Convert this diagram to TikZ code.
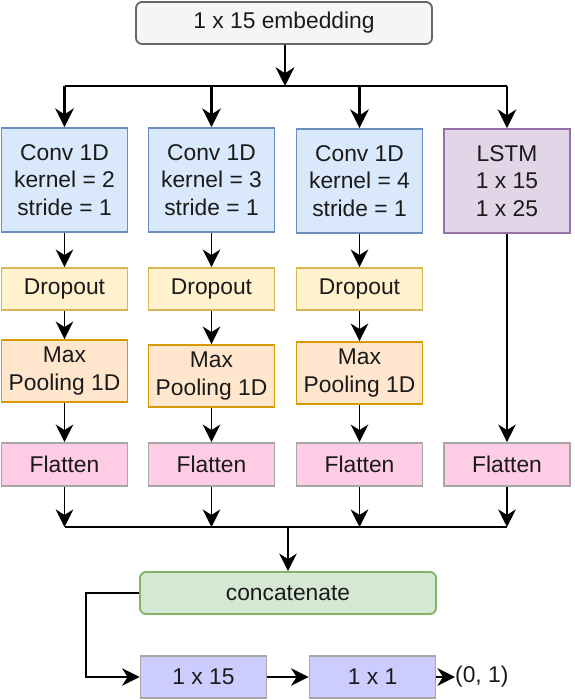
\documentclass[tikz,border=0pt]{standalone}
\usepackage{fontspec}
\setmainfont{Liberation Sans}
\usetikzlibrary{arrows.meta,calc}
\definecolor{convf}{HTML}{DAE8FC}\definecolor{convd}{HTML}{6C8EBF}
\definecolor{lstmf}{HTML}{E1D5E7}\definecolor{lstmd}{HTML}{9673A6}
\definecolor{dropf}{HTML}{FFF2CC}\definecolor{dropd}{HTML}{D6B656}
\definecolor{maxf}{HTML}{FFE6CC}\definecolor{maxd}{HTML}{D79B00}
\definecolor{flatf}{HTML}{FFCCE6}\definecolor{grayd}{HTML}{A6A6A6}
\definecolor{catf}{HTML}{D5E8D4}\definecolor{catd}{HTML}{82B366}
\definecolor{embf}{HTML}{F5F5F5}\definecolor{embd}{HTML}{666666}
\definecolor{densef}{HTML}{CCCCFF}
\definecolor{txt}{HTML}{1A1A1A}
\begin{document}
\begin{tikzpicture}[x=1pt,y=-1pt,
  every node/.style={font=\fontsize{22.8}{27.3}\selectfont, text=txt, inner sep=0pt, align=center},
  blk/.style={draw, line width=1.8pt, minimum width=126pt},
  conv/.style={blk, fill=convf, draw=convd, minimum height=104pt},
  lstm/.style={blk, fill=lstmf, draw=lstmd, minimum height=104pt},
  drop/.style={blk, fill=dropf, draw=dropd, minimum height=42pt},
  maxp/.style={blk, fill=maxf, draw=maxd, minimum height=62pt},
  flat/.style={blk, fill=flatf, draw=grayd, minimum height=43pt},
  dense/.style={blk, fill=densef, draw=grayd, minimum height=42pt},
  wide/.style={draw, line width=1.8pt, minimum width=296pt, minimum height=42pt, rounded corners=6pt},
  thick arr/.style={line width=2.5pt, -{Stealth[length=11pt,width=11pt,inset=3.5pt,scale=1.7]}},
  thin arr/.style={line width=1.8pt, -{Stealth[length=11pt,width=11pt,inset=3.5pt,scale=1.6]}},
]
\useasboundingbox (0,0) rectangle (574,700);

\node[wide, fill=embf, draw=embd] (emb) at (284,23) {1 x 15 embedding};

\node[conv] (c1) at (64.5,180) {Conv 1D\\kernel = 2\\stride = 1};
\node[conv] (c2) at (211.5,180) {Conv 1D\\kernel = 3\\stride = 1};
\node[conv] (c3) at (359.5,181) {Conv 1D\\kernel = 4\\stride = 1};
\node[lstm] (l4) at (507,181) {LSTM\\1 x 15\\1 x 25};

\node[drop] (d1) at (64.5,289) {Dropout};
\node[drop] (d2) at (211.5,289) {Dropout};
\node[drop] (d3) at (359.5,289) {Dropout};

\node[maxp] (m1) at (64.5,371) {Max\\Pooling 1D};
\node[maxp] (m2) at (211.5,376) {Max\\Pooling 1D};
\node[maxp] (m3) at (359.5,373) {Max\\Pooling 1D};

\node[flat] (f1) at (64.5,464.5) {Flatten};
\node[flat] (f2) at (211.5,464.5) {Flatten};
\node[flat] (f3) at (359.5,464.5) {Flatten};
\node[flat] (f4) at (507,464.5) {Flatten};

\node[wide, fill=catf, draw=catd] (cat) at (288,593) {concatenate};
\node[dense] (b1) at (203.5,677) {1 x 15};
\node[dense] (b2) at (372.5,677) {1 x 1};
\node[anchor=west] (out) at (455,677) {(0, 1)};

% top distribution
\coordinate (tj) at (285,86);
\coordinate (tl) at (64.5,86);
\coordinate (tr) at (507,86);
\draw[thick arr] (emb.south -| tj) -- (tj);
\draw[line width=2.5pt] (tl) -- (tr);
\foreach \n in {c1,c2,c3,l4}{
  \draw[thick arr] (\n.north |- tj) -- (\n.north);
}
% columns
\foreach \a/\b in {c1/d1,d1/m1,m1/f1,c2/d2,d2/m2,m2/f2,c3/d3,d3/m3,m3/f3,l4/f4}{
  \draw[thin arr] (\a.south) -- (\b.north);
}
% bottom collection
\coordinate (bj) at (288,527);
\foreach \n in {f1,f2,f3,f4}{
  \draw[thin arr] (\n.south) -- (\n.south |- bj);
}
\draw[line width=1.8pt] (f1.south |- bj) -- (f4.south |- bj);
\draw[thin arr] (bj) -- (cat.north);
% output chain
\coordinate (lc) at (86,593);
\draw[thin arr] (cat.west) -- (lc) |- (b1.west);
\draw[thin arr] (b1.east) -- (b2.west);
\draw[thin arr] (b2.east) -- (out.west);
\end{tikzpicture}
\end{document}
